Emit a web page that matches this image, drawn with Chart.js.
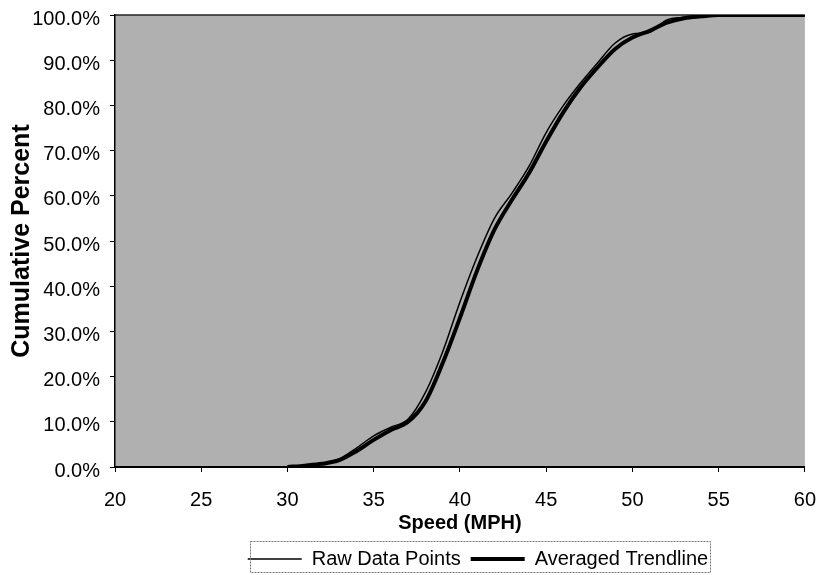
<!DOCTYPE html>
<html>
<head>
<meta charset="utf-8">
<script src="https://cdn.jsdelivr.net/npm/chart.js@4"></script>
<style>
  html, body { margin: 0; padding: 0; background: #ffffff; }
  #wrap { width: 832px; height: 575px; }
</style>
</head>
<body>
<div id="wrap"><canvas id="speedChart" width="832" height="575"></canvas></div>
<script>
// speed (mph) and cumulative percent
const rawSpeeds = [30, 31, 32, 33, 34, 35, 36, 37, 38, 39, 40, 41, 42, 43, 44, 45, 46, 47, 48, 49, 50, 51, 52, 53, 54, 55, 56, 57, 58, 59, 60];
const rawPercent = [0, 0.3, 0.8, 1.8, 4.2, 6.9, 8.8, 10.6, 16.5, 25.5, 36.5, 46.5, 55, 60.5, 66.5, 74, 80, 85, 89.5, 93.8, 95.8, 96.2, 98.9, 99.5, 99.8, 100, 100, 100, 100, 100, 100];

const avgSpeeds = [30, 31, 32, 33, 34, 35, 36, 37, 38, 39, 40, 41, 42, 43, 44, 45, 46, 47, 48, 49, 50, 51, 52, 53, 54, 55, 56, 57, 58, 59, 60];
const avgPercent = [0, 0.3, 0.7, 1.5, 3.5, 6, 8.2, 10, 14.5, 23, 33, 43.5, 52.5, 59, 65, 72, 78.5, 84, 88.5, 92.5, 95, 96.5, 98.3, 99.3, 99.7, 100, 100, 100, 100, 100, 100];

const xTicks = [20, 25, 30, 35, 40, 45, 50, 55, 60];
const seriesNames = ['Raw Data Points', 'Averaged Trendline'];

const FONT = 'Arial, "Liberation Sans", sans-serif';

// gray plot background, legend nudged to where the original had it, dotted box round it
const plotBackground = {
    id: 'plotBackground',
    afterLayout: (chart) => {
        const lg = chart.legend;
        lg.left += 18; lg.right += 18;
        lg.top += 4; lg.bottom += 4;
    },
    beforeDraw: (chart) => {
        const {ctx, chartArea} = chart;
        ctx.save();
        ctx.fillStyle = '#b0b0b0';
        ctx.fillRect(chartArea.left, chartArea.top, chartArea.right - chartArea.left, chartArea.bottom - chartArea.top);
        ctx.strokeStyle = '#222222';
        ctx.lineWidth = 1.5;
        ctx.beginPath();
        ctx.moveTo(chartArea.left, chartArea.top);
        ctx.lineTo(chartArea.right, chartArea.top);
        ctx.stroke();
        ctx.restore();
    },
    afterDraw: (chart) => {
        const ctx = chart.ctx;
        ctx.save();
        ctx.strokeStyle = '#777777';
        ctx.lineWidth = 1;
        ctx.setLineDash([2, 1]);
        ctx.strokeRect(250.5, 541.5, 460, 31);
        ctx.restore();
    }
};

const ctx = document.getElementById('speedChart').getContext('2d');
const speedChart = new Chart(ctx, {
    type: 'line',
    data: {
        datasets: [{
            label: seriesNames[0],
            data: rawSpeeds.map((s, i) => ({x: s, y: rawPercent[i]})),
            borderColor: '#000000',
            borderWidth: 1.5,
            pointRadius: 0,
            cubicInterpolationMode: 'monotone',
            fill: false
        }, {
            label: seriesNames[1],
            data: avgSpeeds.map((s, i) => ({x: s, y: avgPercent[i]})),
            borderColor: '#000000',
            borderWidth: 4,
            pointRadius: 0,
            cubicInterpolationMode: 'monotone',
            fill: false
        }]
    },
    options: {
        responsive: false,
        animation: false,
        layout: { padding: { top: 15, right: 27, left: 0, bottom: 0 } },
        scales: {
            x: {
                type: 'linear',
                min: 20,
                max: 60,
                afterBuildTicks: (axis) => { axis.ticks = xTicks.map(v => ({value: v})); },
                afterFit: (axis) => { axis.height = 68; },
                ticks: { color: '#000', font: { family: FONT, size: 20 }, padding: 16, maxRotation: 0 },
                grid: { display: true, drawOnChartArea: false, drawTicks: true, tickLength: 5, color: '#000' },
                border: { color: '#000', width: 2 },
                title: { display: true, text: 'Speed (MPH)', color: '#000', font: { family: FONT, size: 20, weight: 'bold' }, padding: { top: 0, bottom: 0 } }
            },
            y: {
                min: 0,
                max: 100,
                afterFit: (axis) => { axis.width = 115; axis.paddingTop = 0; axis.paddingBottom = 0; },
                ticks: { stepSize: 10, color: '#000', font: { family: FONT, size: 20 }, padding: 10, labelOffset: 4,
                    callback: (v) => v.toFixed(1) + '%' },
                grid: { display: true, drawOnChartArea: false, drawTicks: true, tickLength: 5, color: '#000' },
                border: { color: '#000', width: 1.5 },
                title: { display: true, text: 'Cumulative Percent', color: '#000', font: { family: FONT, size: 25, weight: 'bold' }, padding: { top: 7, bottom: 0 } }
            }
        },
        plugins: {
            legend: {
                position: 'bottom',
                fullSize: false,
                labels: {
                    color: '#000',
                    font: { family: FONT, size: 20 },
                    usePointStyle: true,
                    pointStyle: 'line',
                    pointStyleWidth: 54,
                    boxHeight: 10,
                    padding: 10
                }
            },
            tooltip: { enabled: false }
        }
    },
    plugins: [plotBackground]
});
</script>
</body>
</html>
